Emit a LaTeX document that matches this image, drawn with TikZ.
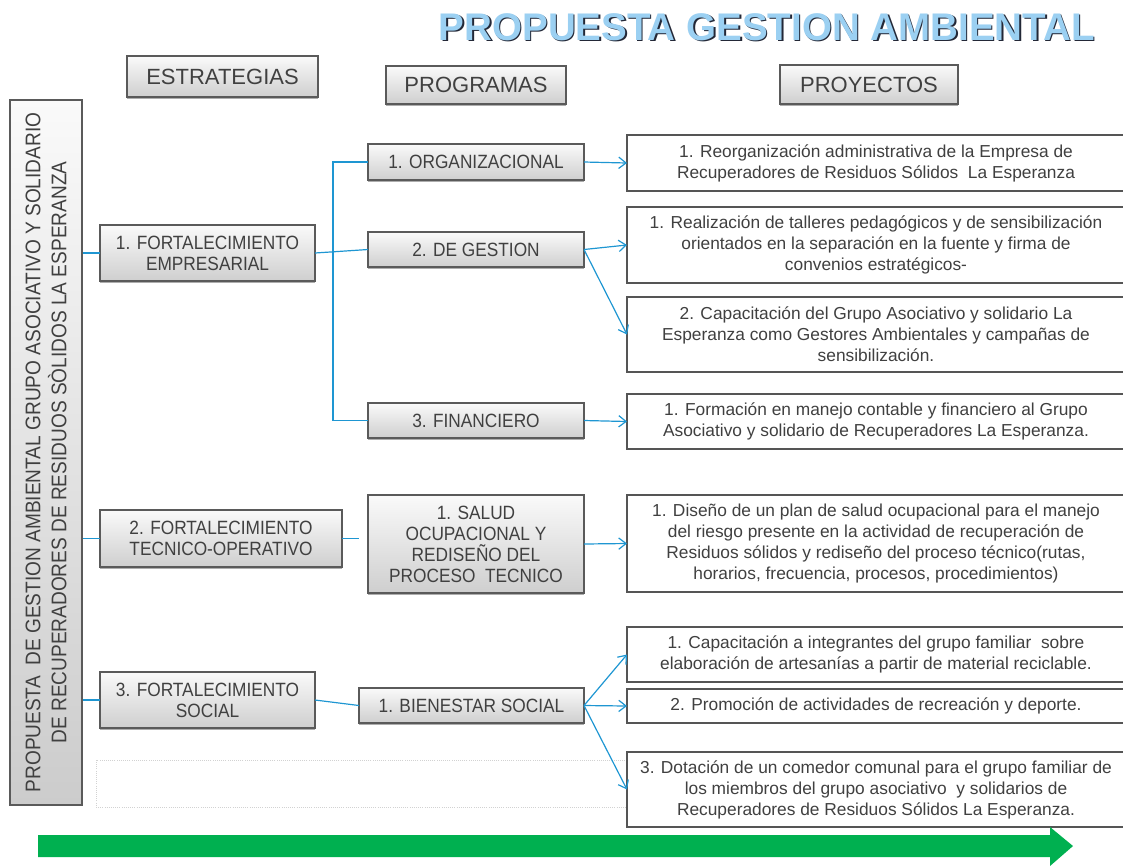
\documentclass[tikz,border=0pt]{standalone}
\usepackage{fontspec}
\setmainfont{Liberation Sans}
\newfontfamily\narrowfont[FakeStretch=0.9]{Liberation Sans}
\usetikzlibrary{arrows.meta,shadows}
\definecolor{connblue}{RGB}{30,150,210}
\definecolor{boxedge}{RGB}{90,90,90}
\definecolor{projedge}{RGB}{85,85,85}
\definecolor{txt}{RGB}{64,64,64}
\definecolor{arrowgreen}{RGB}{0,176,80}
\definecolor{titleblue}{RGB}{155,208,242}
\definecolor{titleshade}{RGB}{35,40,55}
\tikzset{
  graybox/.style={draw=boxedge, line width=0.9pt, top color=gray!4, bottom color=gray!38,
    inner sep=0pt, outer sep=0pt, align=center, text=txt,
    font=\narrowfont\fontsize{14.4}{15.75}\selectfont,
    drop shadow={shadow xshift=0pt, shadow yshift=-1.6pt, fill=gray!80, opacity=0.8}},
  header/.style={graybox, font=\fontsize{16.5}{19}\selectfont},
  leftbox/.style={draw=boxedge, line width=1.5pt, top color=gray!4, bottom color=gray!40,
    inner sep=0pt, align=center, text=txt,
    font=\narrowfont\fontsize{15.9}{19.5}\selectfont},
  projbox/.style={draw=projedge, line width=2.2pt, fill=white, inner sep=0pt, outer sep=0pt,
    align=center, text=txt, font=\fontsize{13}{15.75}\selectfont},
  blankbox/.style={draw=gray!35, densely dotted, line width=0.6pt, inner sep=0pt},
  link/.style={draw=connblue, line width=0.9pt},
  arrowlink/.style={link, -{Straight Barb[length=5.5pt,width=8.5pt]}},
  titletext/.style={font=\bfseries\fontsize{28.9}{30}\selectfont, inner sep=0pt},
}
% \drawbox{style}{name}{x1}{y1}{x2}{y2}{text}  (pixel coordinates)
\newcommand\drawbox[7]{\node[#1, minimum width={(#5-#3)*0.75pt}, minimum height={(#6-#4)*0.75pt}]
  (#2) at ({(#3+#5)/2},{(#4+#6)/2}) {#7};}
\begin{document}
\begin{tikzpicture}[x=0.75pt,y=-0.75pt]
\useasboundingbox (0,0) rectangle (1123,865);
% title
\node[titletext, text=titleshade] (titleshadow) at (768.3,28.6) {PROPUESTA GESTION AMBIENTAL};
\node[titletext, text=titleblue] (title) at (766.7,27) {PROPUESTA GESTION AMBIENTAL};
% headers
\drawbox{header}{est}{127}{56}{318}{97}{ESTRATEGIAS}
\drawbox{header}{prog}{386}{66}{566}{104}{PROGRAMAS}
\drawbox{header}{proy}{780}{65}{958}{104}{PROYECTOS}
% left box
\node[leftbox, rotate=90, minimum width=528.75pt, minimum height=54pt] (lb) at (46,452.5)
  {PROPUESTA\ \ DE GESTION AMBIENTAL GRUPO ASOCIATIVO Y SOLIDARIO\\DE RECUPERADORES DE RESIDUOS SÒLIDOS LA ESPERANZA};
% blank box
\drawbox{blankbox}{blank}{96}{760}{640}{807}{}
% strategies
\drawbox{graybox}{s1}{100}{225}{315}{281}{1. FORTALECIMIENTO\\EMPRESARIAL}
\drawbox{graybox}{s2}{100}{510}{342}{567}{2. FORTALECIMIENTO\\TECNICO-OPERATIVO}
\drawbox{graybox}{s3}{100}{672}{315}{728}{3. FORTALECIMIENTO\\SOCIAL}
% programs
\drawbox{graybox}{g1}{368}{144}{584}{180}{1. ORGANIZACIONAL}
\drawbox{graybox}{g2}{368}{232}{584}{267}{2. DE GESTION}
\drawbox{graybox}{g3}{368}{403}{584}{438}{3. FINANCIERO}
\drawbox{graybox}{g4}{368}{495}{584}{593}{1. SALUD\\OCUPACIONAL Y\\REDISEÑO DEL\\PROCESO\ \ TECNICO}
\drawbox{graybox}{g5}{359}{688}{584}{723}{1. BIENESTAR SOCIAL}
% projects
\drawbox{projbox}{p1}{627}{135}{1125}{191}{1. Reorganización administrativa de la Empresa de\\Recuperadores de Residuos Sólidos\ \ La Esperanza}
\drawbox{projbox}{p2}{627}{207}{1125}{283}{1. Realización de talleres pedagógicos y de sensibilización\\orientados en la separación en la fuente y firma de\\convenios estratégicos-}
\drawbox{projbox}{p3}{627}{297}{1125}{372}{2. Capacitación del Grupo Asociativo y solidario La\\Esperanza como Gestores Ambientales y campañas de\\sensibilización.}
\drawbox{projbox}{p4}{627}{394}{1125}{449}{1. Formación en manejo contable y financiero al Grupo\\Asociativo y solidario de Recuperadores La Esperanza.}
\drawbox{projbox}{p5}{627}{495}{1125}{592}{1. Diseño de un plan de salud ocupacional para el manejo\\del riesgo presente en la actividad de recuperación de\\Residuos sólidos y rediseño del proceso técnico(rutas,\\horarios, frecuencia, procesos, procedimientos)}
\drawbox{projbox}{p6}{627}{627}{1125}{682}{1. Capacitación a integrantes del grupo familiar\ \ sobre\\elaboración de artesanías a partir de material reciclable.}
\drawbox{projbox}{p7}{627}{689}{1125}{723}{2. Promoción de actividades de recreación y deporte.}
\drawbox{projbox}{p8}{627}{752}{1125}{827}{3. Dotación de un comedor comunal para el grupo familiar de\\los miembros del grupo asociativo\ \ y solidarios de\\Recuperadores de Residuos Sólidos La Esperanza.}
% connectors
\draw[link] (s1.west -| lb.south) -- (s1.west);
\draw[link] (s2.west -| lb.south) -- (s2.west);
\draw[link] (s3.west -| lb.south) -- (s3.west);
\draw[link] (s1.east) -- (g2.west);
\draw[link] (g1.west) -- ++(-35,0) |- (g3.west);
\draw[link, shorten >=6.5pt] (s2.east) -- (s2.east -| g4.west);
\draw[link] (s3.east) -- (g5.west);
\draw[arrowlink] (g1.east) -- (p1.west);
\draw[arrowlink] (g2.east) -- (p2.west);
\draw[arrowlink] (g2.east) -- (p3.west);
\draw[arrowlink] (g3.east) -- (p4.west);
\draw[arrowlink] (g4.east) -- (p5.west);
\draw[arrowlink] (g5.east) -- (p6.west);
\draw[arrowlink] (g5.east) -- (p7.west);
\draw[arrowlink] (g5.east) -- (p8.west);
% green arrow
\fill[arrowgreen] (38,835) -- (1050,835) -- (1050,827) -- (1073,846) -- (1050,866) -- (1050,857) -- (38,857) -- cycle;
\end{tikzpicture}
\end{document}
